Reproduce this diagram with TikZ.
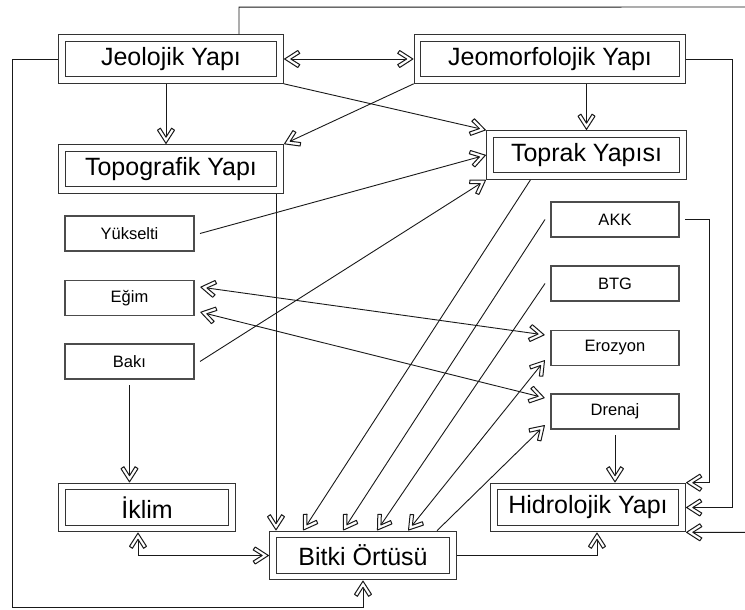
\documentclass[tikz,border=0pt]{standalone}
\usepackage{fontspec}
\setmainfont{Liberation Sans}
\usetikzlibrary{arrows.meta,calc}

\pgfdeclarearrow{
  name = Chev,
  setup code = {
    \pgfarrowssettipend{0pt}
    \pgfarrowssetlineend{-6pt}
    \pgfarrowssetbackend{-16pt}
    \pgfarrowsupperhullpoint{-16pt}{8.5pt}
    \pgfarrowsupperhullpoint{0pt}{0pt}
  },
  drawing code = {
    \pgfsetlinewidth{1pt}
    \pgfsetroundjoin
    \pgfpathmoveto{\pgfqpoint{-0.8pt}{0pt}}
    \pgfpathlineto{\pgfqpoint{-14pt}{8.5pt}}
    \pgfpathlineto{\pgfqpoint{-16pt}{5.6pt}}
    \pgfpathlineto{\pgfqpoint{-7pt}{0pt}}
    \pgfpathlineto{\pgfqpoint{-16pt}{-5.6pt}}
    \pgfpathlineto{\pgfqpoint{-14pt}{-8.5pt}}
    \pgfpathclose
    \pgfsetfillcolor{white}
    \pgfusepathqfillstroke
  },
}

\begin{document}
\begin{tikzpicture}[x=1pt,y=-1pt,>=Chev,
  conn/.style={draw=black!90, line width=0.9pt},
  bigbox/.style={draw=black!80, line width=1.2pt, double=white, double distance=5.2pt,
    minimum height=42pt, inner sep=0pt, outer sep=3.8pt,
    font=\fontsize{25}{29}\selectfont},
  smallbox/.style={draw=black!70, line width=1.1pt, minimum width=129pt,
    minimum height=35pt, inner sep=0pt, outer sep=6pt,
    font=\fontsize{16.5}{19}\selectfont}]
\fill[white] (0,0) rectangle (745,610);
\useasboundingbox (0,0) rectangle (745,610);

% big boxes
\node[bigbox, minimum width=218pt] (jeo)  at (171,59)    {Jeolojik Yapı};
\node[bigbox, minimum width=218pt] (topo) at (171,169)   {Topografik Yapı};
\node[bigbox, minimum width=265pt] (jmf)  at (550,59)    {Jeomorfolojik Yapı};
\node[bigbox, minimum width=193pt] (topr) at (586.5,155) {Toprak Yapısı};
\node[bigbox, minimum width=170pt] (ikl)  at (147,507.5) {İklim};
\node[bigbox, minimum width=180pt] (bit)  at (363,555.5) {Bitki Örtüsü};
\node[bigbox, minimum width=188pt] (hid)  at (588,507.5) {Hidrolojik Yapı};

% small boxes
\node[smallbox] (yuk)  at (129.5,233.5) {Yükselti};
\node[smallbox] (egim) at (129.5,298)   {Eğim};
\node[smallbox] (baki) at (129.5,361.5) {Bakı};
\node[smallbox, minimum width=128pt] (akk)  at (615,219.5) {AKK};
\node[smallbox, minimum width=128pt] (btg)  at (615,283.5) {BTG};
\node[smallbox, minimum width=128pt] (eroz) at (615,348)   {Erozyon};
\node[smallbox, minimum width=128pt] (dren) at (615,411.5) {Drenaj};

% connectors
\draw[conn,<->] (jeo.east) -- (jmf.west);
\draw[conn,->] ([xshift=-5pt]jeo.south) -- ([xshift=-5pt]topo.north);
\draw[conn,->] (topr.north |- jmf.south) -- (topr.north);
\draw[conn,->] (jeo.south east) -- (topr.north west);
\draw[conn,->] (jmf.south west) -- (topo.north east);
\draw[conn,->] (yuk.east) -- (topr.west);
\draw[conn,->] (baki.east) -- (topr.south west);
\draw[conn,<->] ([yshift=11pt]egim.east) -- ([yshift=13pt]eroz.west);
\draw[conn,<->] ([yshift=-14pt]egim.east) -- ([yshift=13.5pt]dren.west);
\draw[conn,->] (baki.south) -- (baki.south |- ikl.north);
\coordinate (tb) at (276,0);
\draw[conn,->] (tb |- topo.south) -- (tb |- bit.north);
\draw[conn,->] ([xshift=-56pt]topr.south) -- ([xshift=-60pt]bit.north);
\draw[conn,->] (akk.west) -- ([xshift=-20pt]bit.north);
\draw[conn,->] (btg.west) -- ([xshift=14pt]bit.north);
\draw[conn,<->] ([yshift=-12pt]eroz.west) -- ([xshift=45pt]bit.north);
\draw[conn,->] ([xshift=74pt]bit.north) -- ([yshift=-13.5pt]dren.west);
\draw[conn,<->] ([xshift=-9pt]ikl.south) |- (bit.west);
\draw[conn,->] (bit.east) -| ([xshift=9pt]hid.south);
\draw[conn,->] (dren.south) -- (dren.south |- hid.north);
\draw[conn,->] (akk.east) -- ++(24,0) |- (hid.north east);
\draw[conn,->] (jmf.east) -- ++(46,0) |- (hid.east);
\draw[conn,->] ([xshift=68pt]jeo.north) -- ++(0,-27) -- (752,7) |- (hid.south east);
\draw[conn,->] (jeo.west) -- ++(-46,0) |- ($(bit.south)+(0,27)$) -- (bit.south);
\end{tikzpicture}
\end{document}
